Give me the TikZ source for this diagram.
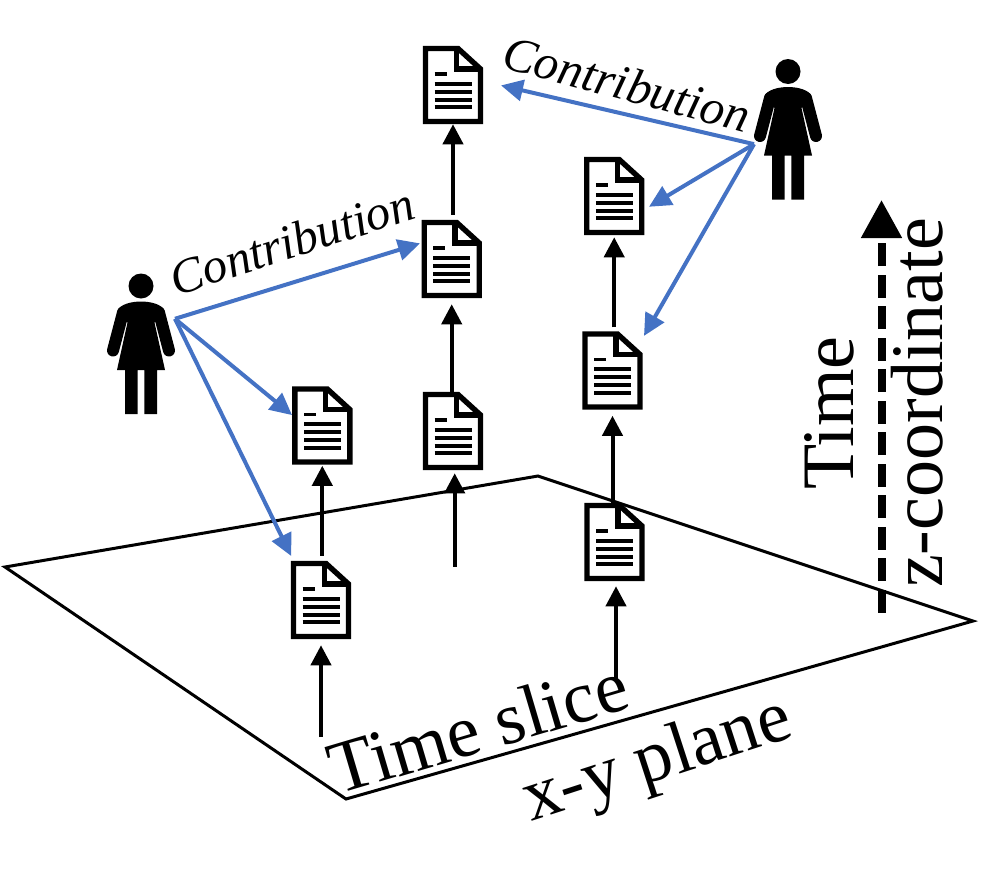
\documentclass[tikz,border=0pt]{standalone}
\usepackage{fontspec}
\setmainfont{Liberation Serif}
\usetikzlibrary{arrows.meta}
\definecolor{contrib}{HTML}{4472C4}
\begin{document}
\begin{tikzpicture}[x=1pt,y=-1pt]
      \tikzstyle{document} = [rectangle, minimum width=60.5pt, minimum height=78.5pt, inner sep=0pt, outer sep=0pt, path picture={
        \begin{scope}[shift={(path picture bounding box.center)}]
          \draw [line width=5.4pt, line join=miter, fill=white] (-27.5,-36.5) -- (5,-36.5) -- (27.5,-16) -- (27.5,36.5) -- (-27.5,36.5) -- cycle;
          \draw [line width=5.4pt] (3.3,-37) -- (3.3,-16) -- (27,-16);
          \draw [line width=3.8pt] (-18.3,-11) -- (-6.3,-11);
          \foreach \rowy in {-1.3,6.7,14.7,22.3}
            \draw [line width=3.8pt] (-18.3,\rowy) -- (18.7,\rowy);
        \end{scope}}]
      \tikzstyle{person} = [rectangle, minimum width=68pt, minimum height=141pt, inner sep=0pt, outer sep=0pt, path picture={
        \begin{scope}[shift={(path picture bounding box.center)}]
          \fill (0,-57.5) circle (12.5);
          \fill (-23.5,-33) .. controls (-21,-39) and (-10,-42) .. (0,-42) .. controls (10,-42) and (21,-39) .. (23.5,-33) -- (13.5,-21) -- (24,26.5) -- (16,26.5) -- (16,70.5) -- (3.3,70.5) -- (3.3,26.5) -- (-3.3,26.5) -- (-3.3,70.5) -- (-16,70.5) -- (-16,26.5) -- (-24,26.5) -- (-13.5,-21) -- cycle;
          \draw [line width=12pt, line cap=round] (-18,-31) -- (-28,7);
          \draw [line width=12pt, line cap=round] (18,-31) -- (28,7);
        \end{scope}}]
      \tikzstyle{arrow} = [line width=4pt,-{Triangle[width=20pt,length=20pt]}]
      \tikzstyle{contribarrow} = [line width=4pt,contrib,-{Triangle[width=21pt,length=22pt]}]
      \tikzstyle{biglabel} = [font=\fontsize{74}{80}\selectfont, inner sep=0pt]
      \tikzstyle{contriblabel} = [font=\fontsize{49}{56}\selectfont\itshape, inner sep=0pt]

      \useasboundingbox (0,0) rectangle (1008,889);

      \draw [line width=3pt, line join=miter] (5,567) -- (538,476) -- (973,621) -- (346,799) -- cycle;

      \coordinate (base-left) at (321,737);
      \coordinate (base-mid) at (454.7,566.7);
      \coordinate (base-right) at (616,680);
      \coordinate (time-start) at (881.5,612.5);
      \coordinate (time-end) at (881.5,200);

      \node (doc-left-low) [document] at (321,600) {};
      \node (doc-left-high) [document] at (322.3,425.5) {};
      \node (doc-mid-low) [document] at (453,431) {};
      \node (doc-mid-high) [document] at (451.7,259) {};
      \node (doc-mid-top) [document] at (453,85) {};
      \node (doc-right-low) [document] at (614.5,542) {};
      \node (doc-right-mid) [document] at (612.5,370.5) {};
      \node (doc-right-high) [document] at (614.2,196) {};

      \node (person-left) [person] at (141,343.5) {};
      \node (person-right) [person] at (788,129) {};

      \draw [arrow] (base-left) -- ([yshift=-6pt]base-left |- doc-left-low.south);
      \draw [arrow, shorten <=5pt] (doc-left-low.north -| doc-left-high) -- ([yshift=-1pt]doc-left-high.south);
      \draw [arrow] (base-mid) -- ([yshift=-3pt]base-mid |- doc-mid-low.south);
      \draw [arrow] (doc-mid-low.north -| doc-mid-high) -- ([yshift=-6pt]doc-mid-high.south);
      \draw [arrow, shorten <=5pt] (doc-mid-high.north -| doc-mid-top) -- (doc-mid-top.south);
      \draw [arrow] (base-right) -- ([yshift=-5pt]base-right |- doc-right-low.south);
      \draw [arrow] (doc-right-low.north -| doc-right-mid) -- ([yshift=-6pt]doc-right-mid.south);
      \draw [arrow, shorten <=4pt] (doc-right-mid.north -| doc-right-high) -- ([yshift=-2pt]doc-right-high.south);

      \draw [line width=8pt, dash pattern=on 23pt off 8.5pt, -{Triangle[width=39pt,length=38pt]}] (time-start) -- (time-end);

      \draw [contribarrow, shorten >=1.5pt] (person-left.36.9) -- (doc-mid-high.152);
      \draw [contribarrow] (person-left.36.9) -- (doc-left-high.161);
      \draw [contribarrow, shorten >=5.3pt] (person-left.36.9) -- (doc-left-low.125.2);
      \draw [contribarrow, shorten >=18.2pt] (person-right.204.4) -- (doc-mid-top.7.7);
      \draw [contribarrow, shorten >=5.3pt] (person-right.204.4) -- (doc-right-high.-24.8);
      \draw [contribarrow, shorten >=2.5pt] (person-right.204.4) -- (doc-right-mid.47.7);

      \node (contrib-left) [contriblabel, rotate=18] at (292,241) {Contribution};
      \node (contrib-right) [contriblabel, rotate=-15] at (627,84) {Contribution};
      \node (slice-label) [biglabel, rotate=16.5] at (478,727) {Time slice};
      \node (plane-label) [biglabel, rotate=18] at (658,762) {x-y plane};
      \node (time-label) [biglabel, rotate=90] at (829,413) {Time};
      \node (z-label) [biglabel, rotate=90] at (917,403) {z-coordinate};
\end{tikzpicture}
\end{document}
